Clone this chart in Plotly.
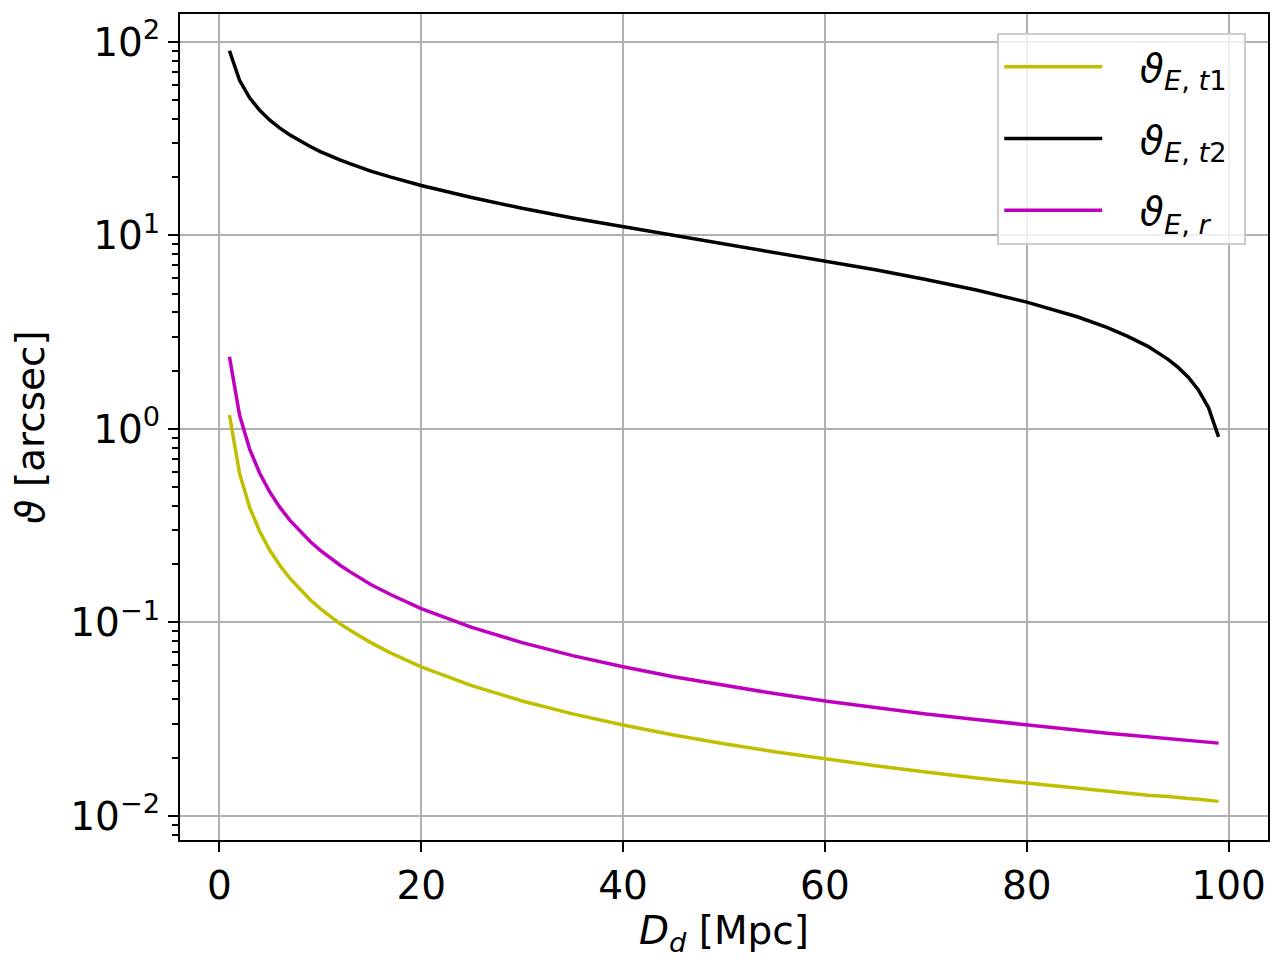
import plotly.graph_objects as go

# distance of the lens D_d [Mpc]
D_d = [1, 2, 3, 4, 5, 6, 7, 8, 9, 10, 11, 12, 13, 15, 17, 20, 25, 30, 35, 40,
       45, 50, 55, 60, 65, 70, 75, 80, 85, 88, 90, 92, 94, 95, 96, 97, 98, 99]

theta_t1 = [1.18, 0.59, 0.393, 0.295, 0.236, 0.197, 0.169, 0.148, 0.131, 0.118,
            0.107, 0.098, 0.0908, 0.0787, 0.0694, 0.059, 0.0472, 0.0393, 0.0337,
            0.0295, 0.0262, 0.0236, 0.0215, 0.0197, 0.0182, 0.0169, 0.0157,
            0.0148, 0.0139, 0.0134, 0.0131, 0.0128, 0.0126, 0.0124, 0.0123,
            0.0122, 0.0120, 0.0119]

theta_t2 = [90.0, 63.3, 51.4, 44.3, 39.4, 35.8, 33.0, 30.7, 28.8, 27.1,
            25.7, 24.5, 23.4, 21.5, 20.0, 18.1, 15.7, 13.8, 12.3, 11.1,
            10.0, 9.05, 8.18, 7.39, 6.64, 5.92, 5.22, 4.52, 3.80, 3.34,
            3.01, 2.67, 2.29, 2.08, 1.85, 1.59, 1.29, 0.91]

theta_r = [2.36, 1.18, 0.787, 0.59, 0.472, 0.393, 0.337, 0.295, 0.262, 0.236,
           0.215, 0.197, 0.182, 0.157, 0.139, 0.118, 0.0944, 0.0787, 0.0674,
           0.059, 0.0524, 0.0472, 0.0429, 0.0393, 0.0363, 0.0337, 0.0315,
           0.0295, 0.0278, 0.0268, 0.0262, 0.0257, 0.0251, 0.0248, 0.0246,
           0.0243, 0.0241, 0.0238]

x_ticks = [0, 20, 40, 60, 80, 100]
y_ticks = [0.01, 0.1, 1, 10, 100]
y_tick_labels = ["10<sup>\u22122</sup>", "10<sup>\u22121</sup>", "10<sup>0</sup>",
                 "10<sup>1</sup>", "10<sup>2</sup>"]
y_minor = [k * 10.0 ** e for e in range(-3, 3) for k in range(2, 10)]

FONT = "DejaVu Sans"
FS = 39
PAD = "\u00a0\u00a0\u2009"
TAIL = "\u00a0"

fig = go.Figure()
series = [
    ("<i>\u03d1</i><sub><i>E</i>, <i>t</i>1</sub>", theta_t1, "#bfbf00"),
    ("<i>\u03d1</i><sub><i>E</i>, <i>t</i>2</sub>", theta_t2, "#000000"),
    ("<i>\u03d1</i><sub><i>E</i>, <i>r</i></sub>", theta_r, "#bf00bf"),
]
for i, (name, vals, col) in enumerate(series):
    fig.add_trace(go.Scatter(x=D_d, y=vals, mode="lines", name=PAD + name + TAIL,
                             legendgroup=str(i),
                             line=dict(color=col, width=3.5)))

fig.update_layout(
    width=1272, height=952,
    margin=dict(l=172, r=12, t=4, b=120),
    paper_bgcolor="white", plot_bgcolor="white",
    font=dict(family=FONT, size=FS, color="black"),
    showlegend=True,
    legend=dict(x=0.98, y=0.977, xanchor="right", yanchor="top",
                bgcolor="rgba(255,255,255,0.8)", bordercolor="#cccccc",
                borderwidth=2, font=dict(family=FONT, size=FS),
                traceorder="grouped", tracegroupgap=18, itemwidth=98),
)
fig.update_xaxes(
    range=[-3.9, 103.9], tickvals=x_ticks,
    showline=True, linecolor="black", linewidth=2, mirror=True,
    ticks="outside", ticklen=10, tickwidth=2, tickcolor="black",
    showgrid=True, gridcolor="#b0b0b0", gridwidth=2, zeroline=False,
    title=dict(text="<i>D</i><sub><i>d</i></sub> [Mpc]", standoff=6,
               font=dict(family=FONT, size=FS)),
)
fig.update_yaxes(
    type="log", range=[-2.124, 2.144], tickvals=y_ticks, ticktext=y_tick_labels,
    showline=True, linecolor="black", linewidth=2, mirror=True,
    ticks="outside", ticklen=10, tickwidth=2, tickcolor="black",
    showgrid=True, gridcolor="#b0b0b0", gridwidth=2, zeroline=False,
    minor=dict(tickmode="array", tickvals=y_minor, ticks="outside", ticklen=6,
               tickwidth=1.5, tickcolor="black", showgrid=False),
    title=dict(text="<i>\u03d1</i> [arcsec]", standoff=16,
               font=dict(family=FONT, size=FS)),
)

fig.write_html("out.html")
